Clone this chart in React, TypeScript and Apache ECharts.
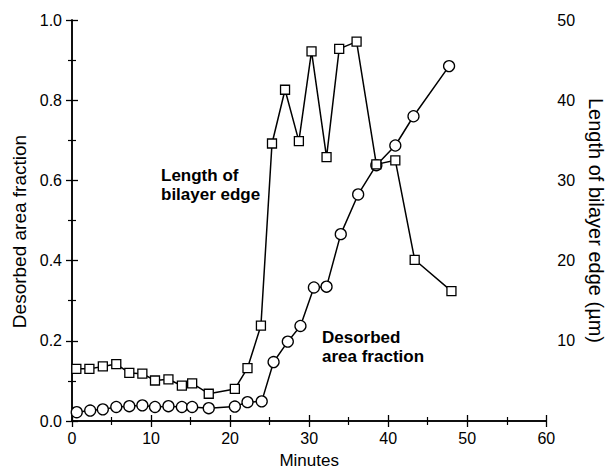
import React, { useEffect, useRef } from "react";
import * as echarts from "echarts";

// Length of bilayer edge (µm), right axis
const edgeMinutes = [0.55, 2.2, 3.9, 5.6, 7.25, 8.9, 10.5, 12.2, 13.9, 15.2, 17.3, 20.6, 22.2, 23.9, 25.3, 26.95, 28.7, 30.3, 32.2, 33.8, 36.0, 38.5, 40.9, 43.35, 48.0];
const edgeLength = [6.5, 6.5, 6.8, 7.1, 6.0, 5.9, 5.05, 5.2, 4.4, 4.7, 3.4, 4.0, 6.6, 11.9, 34.6, 41.3, 34.9, 46.1, 32.9, 46.4, 47.3, 32.0, 32.5, 20.1, 16.2];

// Desorbed area fraction, left axis
const areaMinutes = [0.6, 2.3, 3.9, 5.6, 7.25, 8.9, 10.5, 12.2, 13.9, 15.2, 17.3, 20.6, 22.2, 24.0, 25.5, 27.3, 28.9, 30.6, 32.2, 34.0, 36.2, 38.5, 40.9, 43.2, 47.7];
const areaFraction = [0.022, 0.026, 0.029, 0.035, 0.037, 0.039, 0.035, 0.037, 0.035, 0.035, 0.032, 0.036, 0.047, 0.049, 0.147, 0.198, 0.237, 0.333, 0.335, 0.466, 0.565, 0.638, 0.687, 0.76, 0.885];

const FONT = '"Liberation Sans", Arial, Helvetica, sans-serif';

export default function App() {
  const ref = useRef<HTMLDivElement>(null);
  useEffect(() => {
    if (!ref.current) return;
    const chart = echarts.init(ref.current, null, { renderer: "svg" });
    const axisLine = { show: true, lineStyle: { color: "#000", width: 1.5 } };
    const tick = { show: true, inside: true, length: 6, lineStyle: { color: "#000", width: 1.3 } };
    const minor = { show: true, splitNumber: 2, length: 4, lineStyle: { color: "#000", width: 1.2 } };
    const label = { color: "#000", fontSize: 16, fontFamily: FONT };
    chart.setOption({
      animation: false,
      backgroundColor: "#fff",
      grid: { left: 72, right: 60, top: 20, bottom: 50 },
      xAxis: [
        {
          type: "value", min: 0, max: 60, interval: 10, position: "bottom",
          axisLine, axisTick: tick, minorTick: minor, splitLine: { show: false },
          axisLabel: { ...label, margin: 9 },
          name: "Minutes", nameLocation: "middle", nameGap: 31,
          nameTextStyle: { color: "#000", fontSize: 17, fontFamily: FONT },
        },
        {
          type: "value", min: 0, max: 60, interval: 10, position: "top",
          axisLine, axisTick: tick, minorTick: minor, splitLine: { show: false },
          axisLabel: { show: false },
        },
      ],
      yAxis: [
        {
          type: "value", min: 0, max: 1, interval: 0.2, position: "left",
          axisLine, axisTick: tick, minorTick: minor, splitLine: { show: false },
          axisLabel: { ...label, margin: 10, formatter: (v: number) => v.toFixed(1) },
          name: "Desorbed area fraction", nameLocation: "middle", nameGap: 43,
          nameTextStyle: { color: "#000", fontSize: 19, fontFamily: FONT, padding: [0, 22, 0, 0] },
        },
        {
          type: "value", min: 0, max: 50, interval: 10, position: "right",
          axisLine, axisTick: tick, minorTick: minor, splitLine: { show: false },
          axisLabel: { ...label, margin: 11, formatter: (v: number) => (v === 0 ? "" : String(v)) },
          name: "Length of bilayer edge (µm)", nameLocation: "middle", nameGap: 36, nameRotate: -90,
          nameTextStyle: { color: "#000", fontSize: 20, fontFamily: FONT },
        },
      ],
      series: [
        {
          type: "line", xAxisIndex: 0, yAxisIndex: 1,
          data: edgeMinutes.map((m, i) => [m, edgeLength[i]]),
          symbol: "rect", symbolSize: 9,
          lineStyle: { color: "#000", width: 1.5 },
          itemStyle: { color: "#fff", borderColor: "#000", borderWidth: 1.3 },
          z: 3,
        },
        {
          type: "line", xAxisIndex: 0, yAxisIndex: 0,
          data: areaMinutes.map((m, i) => [m, areaFraction[i]]),
          symbol: "circle", symbolSize: 11,
          lineStyle: { color: "#000", width: 1.5 },
          itemStyle: { color: "#fff", borderColor: "#000", borderWidth: 1.3 },
          z: 2,
        },
      ],
      graphic: [
        {
          type: "text", left: 161, top: 166, z: 10,
          style: { text: "Length of\nbilayer edge", fill: "#000", font: `bold 17px ${FONT}`, lineHeight: 19 },
        },
        {
          type: "text", left: 322, top: 328, z: 10,
          style: { text: "Desorbed\narea fraction", fill: "#000", font: `bold 17px ${FONT}`, lineHeight: 19 },
        },
      ],
    });
    return () => chart.dispose();
  }, []);
  return <div ref={ref} style={{ position: "fixed", left: 0, top: 0, width: 614, height: 474 }} />;
}
